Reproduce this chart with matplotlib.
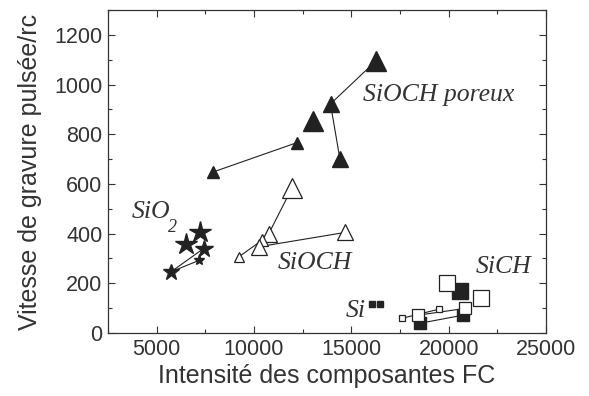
import matplotlib
matplotlib.use("Agg")
import matplotlib.pyplot as plt
from matplotlib.ticker import MultipleLocator

# SiOCH poreux (filled triangles)
por_x = [7900, 12200, 13050, 13930, 14410, 16250]
por_y = [648, 766, 855, 922, 702, 1094]
por_s = [9, 9, 15, 12, 12, 15]
por_links = [(0, 1), (5, 3), (3, 4)]

# SiOCH (open triangles)
soc_x = [11960, 10760, 10410, 10240, 9210, 14700]
soc_y = [585, 400, 373, 347, 306, 405]
soc_s = [15, 12, 8, 12, 7, 12]
soc_links = [(0, 1), (4, 2), (3, 5)]

# SiO2 (stars)
sio2_x = [7240, 6520, 7410, 7200, 5730]
sio2_y = [407, 357, 340, 293, 246]
sio2_s = [16, 16, 13, 8, 12]
sio2_links = [(4, 3), (4, 2)]

# SiCH open squares
sich_o_x = [19900, 21660, 18450, 17590, 19510, 20850]
sich_o_y = [200, 142, 72, 59, 96, 99]
sich_o_s = [11, 11, 9, 5, 5, 9]
# SiCH filled squares
sich_f_x = [20590, 18520, 20750]
sich_f_y = [169, 39, 72]
sich_f_s = [11, 9, 9]
sich_links = [((17590, 59), (19510, 96)), ((18450, 72), (20850, 99)),
              ((18520, 39), (20750, 72))]

# Si filled small squares
si_x = [16080, 16470]
si_y = [116, 116]

fig = plt.figure(figsize=(5.89, 3.96), dpi=100)
ax = fig.add_axes([108/589, 1-333/396, (546-108)/589, (333-10)/396])

dark = "#222222"
lw = 0.8

def links(xs, ys, pairs):
    for a, b in pairs:
        ax.plot([xs[a], xs[b]], [ys[a], ys[b]], color=dark, lw=lw, zorder=1)

links(por_x, por_y, por_links)
links(soc_x, soc_y, soc_links)
links(sio2_x, sio2_y, sio2_links)
for (x0, y0), (x1, y1) in sich_links:
    ax.plot([x0, x1], [y0, y1], color=dark, lw=lw, zorder=1)

for x, y, s in zip(por_x, por_y, por_s):
    ax.plot(x, y, marker="^", ms=s, color=dark, mec=dark, ls="none", zorder=3)
for x, y, s in zip(soc_x, soc_y, soc_s):
    ax.plot(x, y, marker="^", ms=s, mfc="white", mec=dark, mew=0.9, ls="none", zorder=3)
for x, y, s in zip(sio2_x, sio2_y, sio2_s):
    ax.plot(x, y, marker="*", ms=s, color=dark, mec=dark, ls="none", zorder=3)
for x, y, s in zip(sich_f_x, sich_f_y, sich_f_s):
    ax.plot(x, y, marker="s", ms=s, color=dark, mec=dark, ls="none", zorder=2)
for x, y, s in zip(sich_o_x, sich_o_y, sich_o_s):
    ax.plot(x, y, marker="s", ms=s, mfc="white", mec=dark, mew=0.9, ls="none", zorder=3)
ax.plot(si_x, si_y, marker="s", ms=4.5, color=dark, ls="none", zorder=3)

ax.set_xlim(2500, 25000)
ax.set_ylim(0, 1300)
ax.xaxis.set_major_locator(MultipleLocator(5000))
ax.xaxis.set_minor_locator(MultipleLocator(2500))
ax.yaxis.set_major_locator(MultipleLocator(200))
ax.yaxis.set_minor_locator(MultipleLocator(100))
ax.tick_params(which="both", direction="in", top=True, right=True,
               labelsize=15.5, colors="#333333", labelcolor="#333333")
ax.tick_params(which="major", length=5, width=0.8, pad=4)
ax.tick_params(which="minor", length=3, width=0.8)
for sp in ax.spines.values():
    sp.set_color("#333333")
    sp.set_linewidth(0.9)

for lab in ax.get_xticklabels() + ax.get_yticklabels():
    lab.set_family("Liberation Sans")

ax.set_xlabel("Intensité des composantes FC", fontsize=18, color="#333333",
              family="Liberation Sans", labelpad=3)
ax.set_ylabel("Vitesse de gravure pulsée/rc", fontsize=18, color="#333333",
              family="Liberation Sans", labelpad=9)

tk = dict(family="Liberation Serif", style="italic", fontsize=18.5, color="#333333")
ax.text(15580, 932, "SiOCH poreux", ha="left", va="baseline", **tk)
ax.text(3736, 462, "SiO", ha="left", va="baseline", **tk)
ax.text(5590, 405, "2", ha="left", va="baseline",
        **dict(tk, fontsize=13))
ax.text(11200, 257, "SiOCH", ha="left", va="baseline", **tk)
ax.text(21400, 242, "SiCH", ha="left", va="baseline", **tk)
ax.text(14700, 66, "Si", ha="left", va="baseline", **tk)

fig.savefig("out.png", dpi=100)
